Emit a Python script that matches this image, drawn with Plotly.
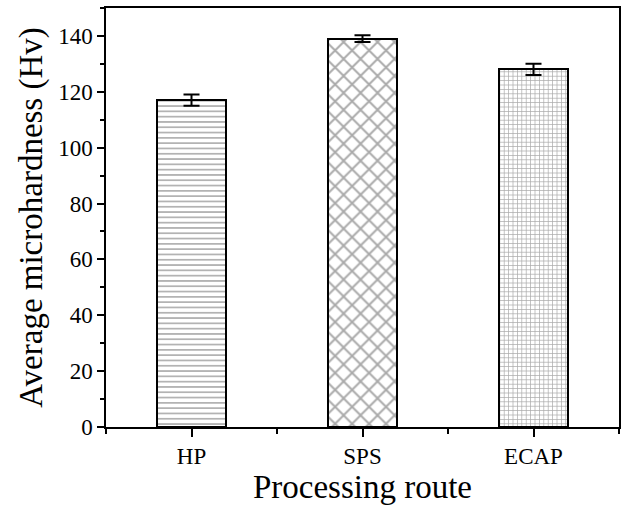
import plotly.graph_objects as go

# Average microhardness by processing route
routes = ["HP", "SPS", "ECAP"]
hardness = [117, 139, 128]
hardness_err = [2, 1.2, 2]
patterns = ["-", "x", "+"]
pattern_sizes = [5.3, 12, 4.4]

xpos = list(range(len(routes)))

fig = go.Figure()
fig.add_trace(go.Bar(
    x=xpos,
    y=hardness,
    width=0.4,
    marker=dict(
        color="white",
        line=dict(color="black", width=2),
        pattern=dict(shape=patterns, size=pattern_sizes, solidity=0.3,
                     fgcolor="#555555", bgcolor="white", fillmode="overlay"),
    ),
    error_y=dict(type="data", array=hardness_err, visible=True,
                 color="black", thickness=2, width=8),
    showlegend=False,
))

font_family = "Liberation Serif"
fig.update_layout(
    width=622, height=508,
    margin=dict(l=106, r=1, t=8, b=81),
    plot_bgcolor="white", paper_bgcolor="white",
    font=dict(family=font_family, color="black", size=23),
    bargap=0,
)
fig.update_xaxes(
    range=[-0.5, 2.5],
    tickmode="array", tickvals=xpos, ticktext=routes,
    ticks="outside", ticklen=8, tickwidth=1.5, tickcolor="black",
    minor=dict(tickmode="array", tickvals=[-0.5, 0.5, 1.5, 2.5],
               ticks="outside", ticklen=5, tickwidth=1.5, tickcolor="black"),
    showline=True, linecolor="black", linewidth=1.5, mirror=True,
    showgrid=False, zeroline=False,
    tickfont=dict(size=23),
    title=dict(text="Processing route", font=dict(size=33), standoff=6),
)
fig.update_yaxes(
    range=[0, 150],
    tickmode="linear", tick0=0, dtick=20,
    ticks="outside", ticklen=7, tickwidth=1.5, tickcolor="black",
    minor=dict(tick0=10, dtick=20, ticks="outside", ticklen=4,
               tickwidth=1.5, tickcolor="black"),
    showline=True, linecolor="black", linewidth=1.5, mirror=True,
    showgrid=False, zeroline=False,
    tickfont=dict(size=23),
    title=dict(text="Average microhardness (Hv)", font=dict(size=33), standoff=6),
)

fig.write_html("out.html")
